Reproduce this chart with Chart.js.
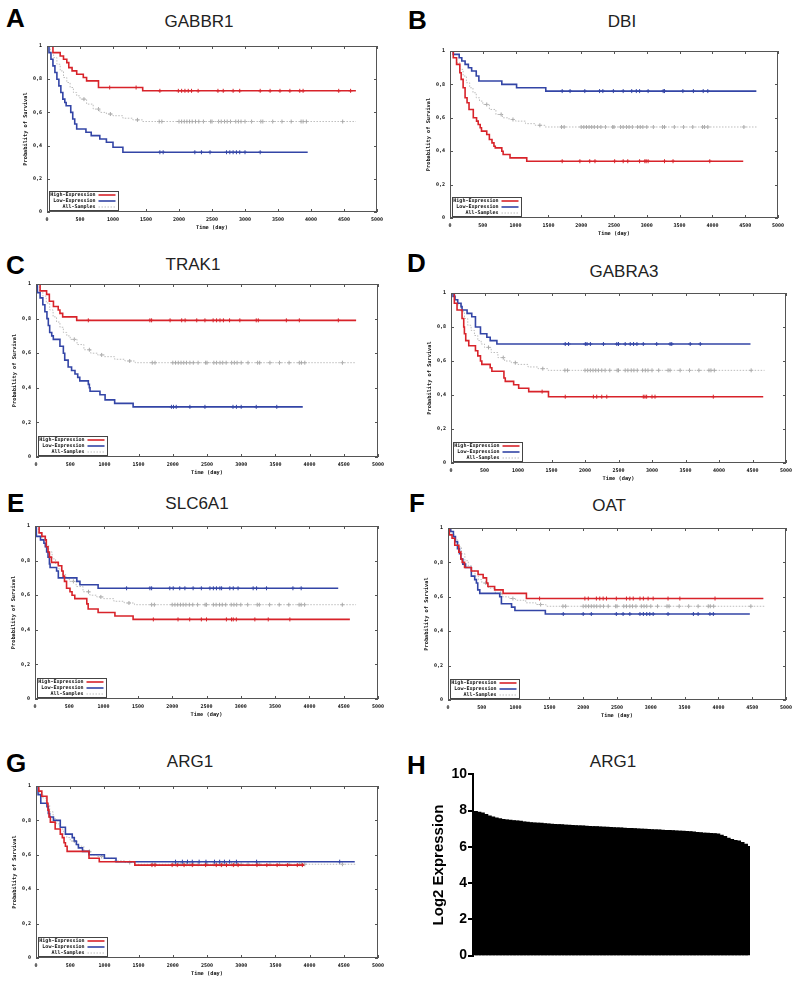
<!DOCTYPE html>
<html lang="en">
<head>
<meta charset="UTF-8">
<title>Survival panels</title>
<script src="https://cdn.jsdelivr.net/npm/chart.js"></script>
<style>
  body {
    margin: 0;
    width: 800px;
    height: 986px;
    position: relative;
    background: #fff;
    font-family: 'Liberation Sans', Arial, sans-serif;
    overflow: hidden;
  }
  /* panel letters */
  .letter {
    position: absolute;
    font-weight: bold;
    font-size: 26px;
    line-height: 26px;
    color: #000;
  }
  /* gene names above the plots */
  .gene {
    position: absolute;
    font-size: 17px;
    line-height: 17px;
    color: #222;
    transform: translateX(-50%);
    white-space: nowrap;
  }
  canvas { position: absolute; }
</style>
</head>
<body>

<div class="letter" style="left:6px; top:5px;">A</div>
<div class="letter" style="left:408px; top:7px;">B</div>
<div class="letter" style="left:6px; top:252px;">C</div>
<div class="letter" style="left:407px; top:250px;">D</div>
<div class="letter" style="left:7px; top:490px;">E</div>
<div class="letter" style="left:409px; top:490px;">F</div>
<div class="letter" style="left:6px; top:750px;">G</div>
<div class="letter" style="left:407px; top:752px;">H</div>

<div class="gene" style="left:199px; top:13px;">GABBR1</div>
<div class="gene" style="left:622px; top:13px;">DBI</div>
<div class="gene" style="left:193px; top:256px;">TRAK1</div>
<div class="gene" style="left:624px; top:263px;">GABRA3</div>
<div class="gene" style="left:197px; top:495px;">SLC6A1</div>
<div class="gene" style="left:609px; top:497px;">OAT</div>
<div class="gene" style="left:190px; top:753px;">ARG1</div>
<div class="gene" style="left:613px; top:753px;">ARG1</div>

<canvas id="kmA"></canvas>
<canvas id="kmB"></canvas>
<canvas id="kmC"></canvas>
<canvas id="kmD"></canvas>
<canvas id="kmE"></canvas>
<canvas id="kmF"></canvas>
<canvas id="kmG"></canvas>
<canvas id="exprH"></canvas>

<script>
// ---- data ----
var yTickLabels = ['0', '0,2', '0,4', '0,6', '0,8', '1'];
var groupLabels = ['High-Expression', 'Low-Expression', 'All-Samples'];

// all samples (same cohort in every panel)
var allT = [0, 50, 100, 150, 200, 250, 300, 350, 400, 450, 500, 600, 700, 800, 900, 1000, 1150, 1300, 1450, 4680];
var allS = [1, 0.96, 0.93, 0.89, 0.85, 0.81, 0.78, 0.75, 0.72, 0.70, 0.68, 0.65, 0.62, 0.60, 0.59, 0.58, 0.565, 0.555, 0.545, 0.545];
var allC = [560, 780, 960, 1370, 1700, 1740, 2000, 2040, 2080, 2120, 2160, 2200, 2250, 2300, 2370, 2480, 2500, 2600, 2640, 2690, 2730, 2780, 2860, 2900, 2940, 3000, 3100, 3240, 3270, 3420, 3560, 3700, 3850, 3880, 3930, 4480];

// A - GABBR1
var gabbr1HighT = [0, 90, 200, 250, 300, 330, 380, 450, 550, 600, 780, 1450, 4680];
var gabbr1HighS = [1, 0.96, 0.94, 0.92, 0.90, 0.87, 0.85, 0.83, 0.81, 0.79, 0.75, 0.73, 0.73];
var gabbr1HighC = [950, 1350, 1710, 1990, 2040, 2090, 2140, 2190, 2290, 2590, 2670, 2820, 2920, 3230, 3380, 3530, 3680, 3830, 3880, 4420, 4600];
var gabbr1LowT = [0, 30, 60, 90, 120, 150, 180, 210, 240, 270, 290, 360, 390, 420, 450, 590, 670, 800, 900, 1000, 1150, 3950];
var gabbr1LowS = [1, 0.96, 0.92, 0.88, 0.84, 0.80, 0.76, 0.72, 0.68, 0.66, 0.64, 0.60, 0.56, 0.53, 0.50, 0.48, 0.46, 0.44, 0.42, 0.39, 0.36, 0.36];
var gabbr1LowC = [1710, 1760, 2240, 2340, 2470, 2720, 2770, 2820, 2870, 2920, 3000, 3230];

// B - DBI
var dbiHighT = [0, 50, 100, 150, 170, 200, 230, 260, 290, 355, 405, 430, 460, 480, 560, 600, 640, 670, 690, 790, 810, 915, 1170, 4470];
var dbiHighS = [1, 0.96, 0.92, 0.87, 0.83, 0.78, 0.72, 0.69, 0.65, 0.60, 0.58, 0.56, 0.54, 0.52, 0.50, 0.47, 0.45, 0.43, 0.42, 0.40, 0.38, 0.36, 0.34, 0.34];
var dbiHighC = [1710, 1980, 2130, 2210, 2510, 2640, 2710, 2890, 2970, 2990, 3020, 3270, 3400, 3960];
var dbiLowT = [0, 50, 140, 180, 230, 280, 330, 400, 440, 790, 1015, 1460, 4670];
var dbiLowS = [1, 0.98, 0.96, 0.94, 0.92, 0.90, 0.88, 0.85, 0.82, 0.80, 0.78, 0.76, 0.76];
var dbiLowC = [1710, 1830, 2055, 2280, 2330, 2490, 2640, 2770, 2840, 2890, 3020, 3250, 3270, 3550, 3710, 3860, 3930];

// C - TRAK1
var trak1HighT = [0, 60, 155, 195, 255, 325, 350, 390, 595, 4680];
var trak1HighS = [1, 0.96, 0.94, 0.90, 0.87, 0.85, 0.83, 0.81, 0.79, 0.79];
var trak1HighC = [765, 1665, 1690, 1960, 2130, 2180, 2350, 2470, 2590, 2640, 2690, 2740, 2830, 2980, 3220, 3250, 3660, 3850, 4420];
var trak1LowT = [0, 20, 60, 100, 130, 160, 180, 200, 230, 253, 350, 400, 420, 470, 520, 570, 610, 640, 765, 780, 790, 935, 1010, 1150, 1420, 3900];
var trak1LowS = [1, 0.95, 0.92, 0.88, 0.84, 0.80, 0.76, 0.72, 0.70, 0.68, 0.64, 0.60, 0.56, 0.52, 0.50, 0.48, 0.46, 0.44, 0.42, 0.40, 0.38, 0.36, 0.33, 0.31, 0.29, 0.29];
var trak1LowC = [1980, 2010, 2050, 2250, 2470, 2880, 2930, 3000, 3220, 3520];

// D - GABRA3
var gabra3HighT = [0, 50, 90, 165, 190, 200, 220, 265, 365, 400, 440, 460, 585, 610, 790, 810, 935, 1010, 1160, 1455, 4660];
var gabra3HighS = [1, 0.94, 0.90, 0.85, 0.80, 0.76, 0.72, 0.69, 0.66, 0.63, 0.60, 0.58, 0.56, 0.54, 0.50, 0.48, 0.46, 0.44, 0.42, 0.39, 0.39];
var gabra3HighC = [1360, 1705, 2125, 2175, 2250, 2325, 2870, 2895, 2920, 3000, 3045, 3915];
var gabra3LowT = [0, 30, 60, 100, 150, 165, 240, 310, 365, 440, 535, 585, 685, 4470];
var gabra3LowS = [1, 0.98, 0.96, 0.94, 0.92, 0.90, 0.88, 0.86, 0.80, 0.76, 0.74, 0.72, 0.70, 0.70];
var gabra3LowC = [1705, 1755, 2005, 2030, 2080, 2275, 2475, 2500, 2600, 2675, 2725, 2775, 2870, 3070, 3270, 3295, 3570, 3720];

// E - SLC6A1
var slc6a1HighT = [0, 60, 100, 150, 165, 190, 210, 240, 340, 390, 410, 430, 460, 510, 540, 580, 755, 775, 920, 1165, 1430, 4590];
var slc6a1HighS = [1, 0.96, 0.94, 0.92, 0.88, 0.85, 0.82, 0.79, 0.77, 0.74, 0.71, 0.68, 0.64, 0.62, 0.60, 0.58, 0.55, 0.52, 0.50, 0.48, 0.46, 0.46];
var slc6a1HighC = [1725, 2085, 2255, 2425, 2500, 2790, 2865, 2890, 2935, 3205, 3400, 3715];
var slc6a1LowT = [0, 20, 80, 130, 150, 170, 190, 210, 220, 315, 340, 610, 655, 920, 4420];
var slc6a1LowS = [1, 0.94, 0.92, 0.90, 0.88, 0.85, 0.82, 0.78, 0.76, 0.74, 0.70, 0.68, 0.66, 0.64, 0.64];
var slc6a1LowC = [1335, 1675, 1700, 1965, 2015, 2110, 2185, 2305, 2425, 2550, 2600, 2645, 2695, 2720, 2840, 2890, 2960, 3180, 3230, 3375, 3760, 3880];

// F - OAT
var oatHighT = [0, 20, 60, 100, 160, 190, 210, 245, 345, 445, 520, 570, 590, 690, 815, 1160, 4665];
var oatHighS = [1, 0.96, 0.94, 0.90, 0.86, 0.82, 0.80, 0.77, 0.75, 0.73, 0.71, 0.68, 0.66, 0.64, 0.62, 0.59, 0.59];
var oatHighC = [1355, 2025, 2075, 2195, 2245, 2295, 2345, 2490, 2640, 2690, 2740, 2840, 2890, 2960, 3035, 3255, 3430, 3950];
var oatLowT = [0, 40, 80, 110, 140, 170, 190, 220, 260, 345, 395, 420, 440, 470, 765, 790, 940, 990, 1440, 4465];
var oatLowS = [1, 0.98, 0.95, 0.92, 0.88, 0.85, 0.82, 0.79, 0.77, 0.72, 0.70, 0.68, 0.64, 0.62, 0.60, 0.56, 0.54, 0.52, 0.50, 0.50];
var oatLowC = [1705, 2000, 2120, 2490, 2590, 2690, 2840, 2890, 2940, 2985, 3035, 3255, 3630, 3700, 3875, 3925];

// G - ARG1
var arg1HighT = [0, 40, 85, 160, 175, 190, 210, 280, 355, 385, 410, 430, 455, 775, 925, 1445, 3920];
var arg1HighS = [1, 0.97, 0.94, 0.90, 0.86, 0.82, 0.79, 0.75, 0.72, 0.70, 0.67, 0.65, 0.62, 0.58, 0.56, 0.54, 0.54];
var arg1HighC = [1695, 1740, 1990, 2065, 2165, 2285, 2480, 2635, 2710, 2785, 2885, 2955, 3230, 3375, 3525, 3675, 3820, 3895];
var arg1LowT = [0, 30, 70, 160, 180, 200, 255, 355, 430, 530, 560, 590, 620, 680, 775, 1000, 1170, 4660];
var arg1LowS = [1, 0.95, 0.90, 0.88, 0.84, 0.82, 0.80, 0.76, 0.72, 0.70, 0.68, 0.66, 0.64, 0.62, 0.60, 0.58, 0.56, 0.56];
var arg1LowC = [2040, 2140, 2215, 2285, 2385, 2485, 2610, 2685, 2755, 2830, 2930, 3225, 4440];

// H - ARG1 log2 expression per sample, sorted
var arg1Expr = [7.92, 7.88, 7.84, 7.76, 7.68, 7.62, 7.56, 7.52, 7.48, 7.46,
  7.44, 7.42, 7.40, 7.38, 7.35, 7.33, 7.31, 7.29, 7.28, 7.27,
  7.25, 7.24, 7.22, 7.21, 7.20, 7.19, 7.17, 7.16, 7.15, 7.14,
  7.13, 7.12, 7.11, 7.10, 7.09, 7.08, 7.07, 7.06, 7.05, 7.04,
  7.03, 7.02, 7.01, 7.00, 6.99, 6.98, 6.97, 6.96, 6.95, 6.94,
  6.93, 6.92, 6.91, 6.90, 6.89, 6.88, 6.87, 6.86, 6.85, 6.84,
  6.83, 6.82, 6.81, 6.79, 6.77, 6.75, 6.73, 6.72, 6.71, 6.70,
  6.68, 6.62, 6.55, 6.45, 6.38, 6.33, 6.30, 6.22, 6.12, 6.00];
var exprTicks = [0, 2, 4, 6, 8, 10];

// ---- colours / fonts ----
var RED = '#d8232a';
var BLUE = '#3345a6';
var GREY = '#bdbdbd';
var tinyFont = { family: "'DejaVu Sans Mono', monospace", size: 5, weight: 'bold' };
var tinyTitle = { family: "'DejaVu Sans Mono', monospace", size: 5.3, weight: 'bold' };

// survival value at time t (step function)
function survAt(T, S, t) {
  var v = S[0];
  for (var i = 0; i < T.length; i++) {
    if (T[i] <= t) v = S[i];
  }
  return v;
}

function curve(T, S, label, color, width, dash, ord) {
  return {
    label: label,
    data: T.map(function (t, i) { return { x: t, y: S[i] }; }),
    borderColor: color,
    borderWidth: width,
    borderDash: dash,
    stepped: 'before',
    pointRadius: 0,
    fill: false,
    inLegend: true,
    order: ord
  };
}

function censors(T, S, C, color, ord) {
  return {
    label: '',
    data: C.map(function (t) { return { x: t, y: survAt(T, S, t) }; }),
    showLine: false,
    pointStyle: 'cross',
    pointRadius: 2,
    pointBorderWidth: 1,
    borderColor: color,
    pointBorderColor: color,
    order: ord
  };
}

// gnuplot-ish frame: box, inward ticks, legend in the lower left
var kmFrame = {
  id: 'kmFrame',
  afterDraw: function (chart) {
    var ctx = chart.ctx, a = chart.chartArea;
    var sx = chart.scales.x, sy = chart.scales.y;
    ctx.save();
    ctx.strokeStyle = '#555';
    ctx.lineWidth = 1;
    ctx.setLineDash([]);
    ctx.strokeRect(Math.round(a.left) + 0.5, Math.round(a.top) + 0.5, Math.round(a.width) - 1, Math.round(a.height) - 1);
    ctx.beginPath();
    sx.ticks.forEach(function (t) {
      var px = Math.round(sx.getPixelForValue(t.value)) + 0.5;
      ctx.moveTo(px, a.bottom); ctx.lineTo(px, a.bottom - 3);
      ctx.moveTo(px, a.top); ctx.lineTo(px, a.top + 3);
    });
    sy.ticks.forEach(function (t) {
      var py = Math.round(sy.getPixelForValue(t.value)) + 0.5;
      ctx.moveTo(a.left, py); ctx.lineTo(a.left + 3, py);
      ctx.moveTo(a.right, py); ctx.lineTo(a.right - 3, py);
    });
    ctx.stroke();

    // legend box
    var lx = Math.round(a.left) + 2.5, ly = Math.round(a.bottom) - 20.5;
    ctx.fillStyle = '#fff';
    ctx.fillRect(lx, ly, 69, 19);
    ctx.strokeStyle = '#444';
    ctx.strokeRect(lx, ly, 69, 19);
    ctx.font = 'bold 5px "DejaVu Sans Mono", monospace';
    ctx.textAlign = 'right';
    ctx.textBaseline = 'middle';
    var rows = chart.data.datasets.filter(function (d) { return d.inLegend; });
    rows.forEach(function (d, i) {
      var y = ly + 3.5 + i * 6;
      ctx.fillStyle = '#111';
      ctx.fillText(d.label, lx + 46, y);
      ctx.strokeStyle = d.borderColor;
      ctx.lineWidth = d.borderWidth;
      ctx.setLineDash(d.borderDash || []);
      ctx.beginPath();
      ctx.moveTo(lx + 49, y);
      ctx.lineTo(lx + 66, y);
      ctx.stroke();
    });
    ctx.restore();
  }
};

function kmChart(id, box, high, low) {
  var el = document.getElementById(id);
  var padL = 28, padT = 5, padR = 12, padB = 20;
  el.width = box[2] - box[0] + padL + padR;
  el.height = box[3] - box[1] + padT + padB;
  el.style.left = (box[0] - padL) + 'px';
  el.style.top = (box[1] - padT) + 'px';

  return new Chart(el, {
    type: 'line',
    data: {
      datasets: [
        curve(high[0], high[1], groupLabels[0], RED, 1.6, [], 1),
        curve(low[0], low[1], groupLabels[1], BLUE, 1.6, [], 2),
        curve(allT, allS, groupLabels[2], GREY, 1, [1.5, 1.5], 6),
        censors(high[0], high[1], high[2], RED, 3),
        censors(low[0], low[1], low[2], BLUE, 4),
        censors(allT, allS, allC, '#a8a8a8', 7)
      ]
    },
    options: {
      responsive: false,
      animation: false,
      layout: { padding: { top: padT, right: padR, left: 0, bottom: 0 } },
      plugins: { legend: { display: false }, tooltip: { enabled: false } },
      scales: {
        x: {
          type: 'linear', min: 0, max: 5000,
          afterFit: function (s) { s.height = padB; },
          grid: { display: false, drawTicks: false, tickLength: 0 },
          border: { display: false },
          ticks: {
            stepSize: 500, autoSkip: false, maxRotation: 0, padding: 5,
            font: tinyFont, color: '#111',
            callback: function (v) { return String(v); }
          },
          title: { display: true, text: 'Time (day)', font: tinyTitle, color: '#111', padding: { top: 0, bottom: 1 } }
        },
        y: {
          min: 0, max: 1,
          afterFit: function (s) { s.width = padL; },
          grid: { display: false, drawTicks: false, tickLength: 0 },
          border: { display: false },
          ticks: {
            stepSize: 0.2, padding: 5, font: tinyFont, color: '#111',
            callback: function (v, i) { return yTickLabels[i]; }
          },
          title: { display: true, text: 'Probability of Survival', font: tinyTitle, color: '#111', padding: { top: 3, bottom: 0 } }
        }
      }
    },
    plugins: [kmFrame]
  });
}

kmChart('kmA', [47, 43, 377, 212], [gabbr1HighT, gabbr1HighS, gabbr1HighC], [gabbr1LowT, gabbr1LowS, gabbr1LowC]);
kmChart('kmB', [450, 48, 778, 218], [dbiHighT, dbiHighS, dbiHighC], [dbiLowT, dbiLowS, dbiLowC]);
kmChart('kmC', [36, 281, 378, 457], [trak1HighT, trak1HighS, trak1HighC], [trak1LowT, trak1LowS, trak1LowC]);
kmChart('kmD', [451, 290, 786, 463], [gabra3HighT, gabra3HighS, gabra3HighC], [gabra3LowT, gabra3LowS, gabra3LowC]);
kmChart('kmE', [35, 523, 378, 699], [slc6a1HighT, slc6a1HighS, slc6a1HighC], [slc6a1LowT, slc6a1LowS, slc6a1LowC]);
kmChart('kmF', [448, 525, 786, 700], [oatHighT, oatHighS, oatHighC], [oatLowT, oatLowS, oatLowC]);
kmChart('kmG', [36, 783, 378, 958], [arg1HighT, arg1HighS, arg1HighC], [arg1LowT, arg1LowS, arg1LowC]);

// H - expression bars
var hEl = document.getElementById('exprH');
hEl.width = 330;
hEl.height = 200;
hEl.style.left = '430px';
hEl.style.top = '765px';
new Chart(hEl, {
  type: 'bar',
  data: {
    labels: arg1Expr.map(function (v, i) { return 'S' + (i + 1); }),
    datasets: [{
      data: arg1Expr,
      backgroundColor: '#000',
      borderWidth: 0,
      barPercentage: 1.25,
      categoryPercentage: 1,
      inflateAmount: 1
    }]
  },
  options: {
    responsive: false,
    animation: false,
    layout: { padding: { top: 8, right: 10, bottom: 7, left: 0 } },
    plugins: { legend: { display: false }, tooltip: { enabled: false } },
    scales: {
      x: { display: false },
      y: {
        min: 0, max: 10,
        afterFit: function (s) { s.width = 43; },
        afterBuildTicks: function (s) { s.ticks = exprTicks.map(function (v) { return { value: v }; }); },
        grid: { display: true, drawOnChartArea: false, drawTicks: true, tickLength: 5, color: '#000', lineWidth: 2 },
        border: { display: true, color: '#000', width: 2 },
        ticks: { padding: 1, color: '#000', font: { family: "'Liberation Sans', Arial, sans-serif", size: 14, weight: 'bold' } },
        title: { display: true, text: 'Log2 Expression', color: '#000', padding: { top: 0, bottom: 0 },
          font: { family: "'Liberation Sans', Arial, sans-serif", size: 15, weight: 'bold' } }
      }
    }
  }
});
</script>
</body>
</html>
